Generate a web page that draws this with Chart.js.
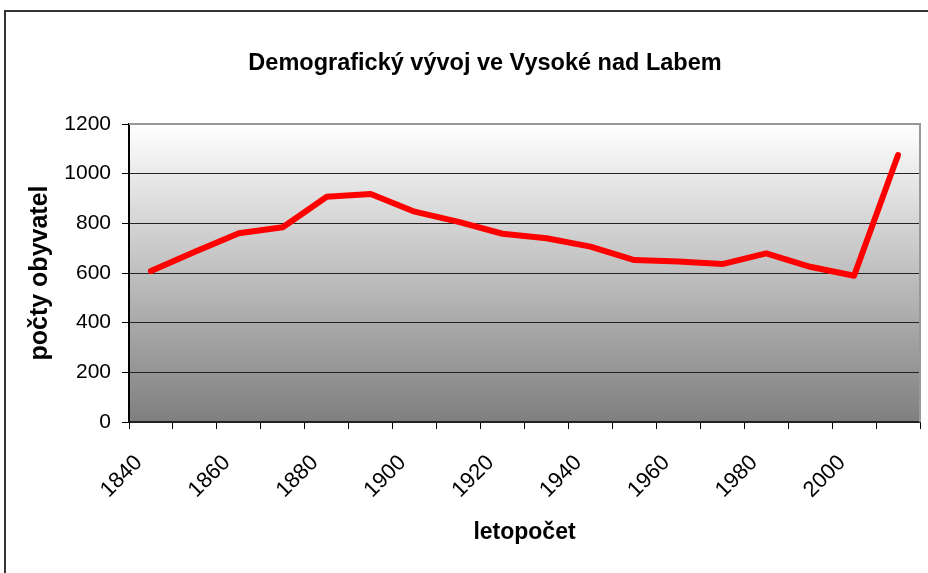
<!DOCTYPE html>
<html>
<head>
<meta charset="utf-8">
<script src="https://cdn.jsdelivr.net/npm/chart.js@4/dist/chart.umd.min.js"></script>
<style>
  body { margin: 0; background: #fff; }
  #wrap { width: 928px; height: 573px; position: relative; }
</style>
</head>
<body>
<div id="wrap"><canvas id="myChart"></canvas></div>
<script>
// data
const years = ['1840', '1850', '1860', '1870', '1880', '1890', '1900', '1910', '1920',
  '1930', '1940', '1950', '1960', '1970', '1980', '1990', '2000', '2010']
const population = [608, 686, 760, 784, 907, 918, 847, 806, 758, 740, 706, 652, 646, 636, 679, 625, 589, 1075]
const yTicks = [0, 200, 400, 600, 800, 1000, 1200]
const chartTitle = 'Demografický vývoj ve Vysoké nad Labem'

const font = '"Liberation Sans", Arial, sans-serif'

// plot background, outer frame and title
const decor = {
  id: 'decor',
  beforeDraw (chart) {
    const { ctx, chartArea: a } = chart
    ctx.save()
    ctx.fillStyle = '#fff'
    ctx.fillRect(0, 0, chart.width, chart.height)
    ctx.strokeStyle = '#333'
    ctx.lineWidth = 2
    ctx.strokeRect(5, 11, 1000, 1000)
    const g = ctx.createLinearGradient(0, a.top, 0, a.bottom)
    g.addColorStop(0, '#ffffff')
    g.addColorStop(1, '#7f7f7f')
    ctx.fillStyle = g
    ctx.fillRect(a.left, a.top, a.right - a.left, a.bottom - a.top)
    ctx.restore()
  },
  beforeDatasetsDraw (chart) {
    const { ctx, chartArea: a } = chart
    ctx.save()
    ctx.strokeStyle = '#999'
    ctx.lineWidth = 2
    ctx.beginPath()
    ctx.moveTo(a.left, a.top)
    ctx.lineTo(a.right, a.top)
    ctx.lineTo(a.right, a.bottom)
    ctx.stroke()
    ctx.restore()
  },
  afterDraw (chart) {
    const { ctx } = chart
    ctx.save()
    ctx.font = 'bold 23.5px ' + font
    ctx.fillStyle = '#000'
    ctx.textAlign = 'center'
    ctx.textBaseline = 'middle'
    ctx.fillText(chartTitle, 485, 64)
    ctx.restore()
  }
}

const ctx = document.getElementById('myChart').getContext('2d')
const myChart = new Chart(ctx, {
  type: 'line',
  data: {
    labels: years,
    datasets: [{
      label: 'počty obyvatel',
      data: population,
      borderColor: '#ff0000',
      borderWidth: 6,
      borderJoinStyle: 'round',
      borderCapStyle: 'round',
      pointRadius: 0,
      tension: 0,
      fill: false
    }]
  },
  options: {
    responsive: true,
    maintainAspectRatio: false,
    animation: false,
    layout: { padding: { left: 21, right: 8, top: 124, bottom: 23 } },
    plugins: {
      legend: { display: false },
      tooltip: { enabled: false }
    },
    scales: {
      x: {
        offset: true,
        grid: { offset: true, drawOnChartArea: false, drawTicks: true, tickLength: 7, color: '#000' },
        border: { color: '#222', width: 2 },
        ticks: {
          autoSkip: false,
          maxRotation: 45,
          minRotation: 45,
          padding: 21,
          labelOffset: -12,
          color: '#000',
          font: { family: font, size: 22 },
          callback: function (v, i) { return i % 2 === 0 ? years[i] : '' }
        },
        title: { display: true, text: 'letopočet', color: '#000', font: { family: font, size: 23, weight: 'bold' } },
        afterFit: function (s) {
          s.height = 128
          s.paddingLeft = 0
          s.paddingRight = 0
        }
      },
      y: {
        min: 0,
        max: 1200,
        afterBuildTicks: function (s) { s.ticks = yTicks.map(v => ({ value: v })) },
        grid: {
          color: (c) => c.tick && c.tick.value === 1200 ? '#999' : '#222',
          tickLength: 7,
          tickColor: '#000'
        },
        border: { color: '#000', width: 2 },
        ticks: {
          padding: 11,
          color: '#000',
          font: { family: font, size: 21 },
          callback: function (v) { return String(v) }
        },
        title: { display: true, text: 'počty obyvatel', color: '#000', font: { family: font, size: 25, weight: 'bold' } },
        afterFit: function (s) { s.width = 108 }
      }
    }
  },
  plugins: [decor]
})
</script>
</body>
</html>
